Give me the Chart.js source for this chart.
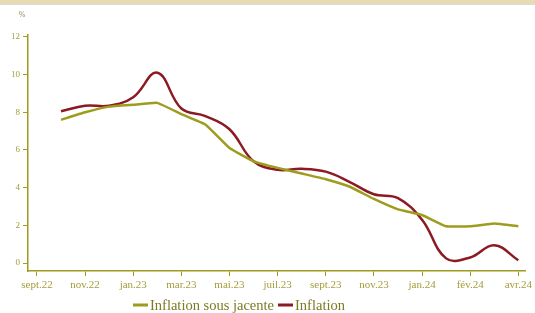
<!DOCTYPE html>
<html lang="fr">
<head>
    <meta charset="UTF-8">
    <title>Inflation</title>
    <script src="https://cdn.jsdelivr.net/npm/chart.js@4.4.1/dist/chart.umd.min.js"></script>
    <style>
        html, body { margin: 0; padding: 0; background: #fff; }
        .band { position: absolute; left: 0; top: 0; width: 535px; height: 4px; background: #e6dbb1; border-bottom: 1px solid #dcdcdc; }
        .wrap { position: relative; width: 535px; height: 313px; }
    </style>
</head>
<body>
    <div class="band"></div>
    <div class="wrap">
        <canvas id="chart"></canvas>
    </div>

    <script>
        // tick labels on the x axis (one per position 0..10)
        const monthLabels = ['sept.22', 'nov.22', 'jan.23', 'mar.23', 'mai.23', 'juil.23',
                             'sept.23', 'nov.23', 'jan.24', 'fév.24', 'avr.24'];
        // positions of the monthly points on the x axis
        const pointPos = [0.5, 1, 1.5, 2, 2.5, 3, 3.5, 4, 4.5, 5,
                          5.5, 6, 6.5, 7, 7.5, 8, 8.5, 9, 9.5, 10];
        // values (%)
        const coreInflation = [7.6, 8.0, 8.3, 8.4, 8.5, 7.9, 7.35, 6.1, 5.4, 5.05,
                               4.75, 4.45, 4.05, 3.4, 2.85, 2.55, 1.95, 1.95, 2.1, 1.95];
        const inflation = [8.05, 8.35, 8.35, 8.8, 10.1, 8.2, 7.8, 7.1, 5.4, 4.95,
                           5.0, 4.85, 4.3, 3.65, 3.45, 2.3, 0.25, 0.3, 0.95, 0.15];
        const yTicks = [0, 2, 4, 6, 8, 10, 12];

        const olive = '#9e9c1e';
        const red = '#8c1a22';
        const tickColor = '#a39d3a';
        const serif = '"Liberation Serif", "DejaVu Serif", serif';

        const toXY = vals => vals.map((v, i) => ({ x: pointPos[i], y: v }));

        // legend and unit label drawn by hand so it can sit where the original has it
        const extras = {
            id: 'extras',
            afterDraw(chart) {
                const ctx = chart.ctx;
                ctx.save();
                ctx.fillStyle = '#8a8a60';
                ctx.font = '8px ' + serif;
                ctx.textAlign = 'center';
                ctx.fillText('%', 22, 17);

                ctx.font = '14.5px ' + serif;
                ctx.textAlign = 'left';
                ctx.textBaseline = 'middle';
                let x = 133;
                const y = 305;
                chart.data.datasets.forEach(ds => {
                    ctx.strokeStyle = ds.borderColor;
                    ctx.lineWidth = 3;
                    ctx.beginPath();
                    ctx.moveTo(x, y);
                    ctx.lineTo(x + 15, y);
                    ctx.stroke();
                    ctx.fillStyle = '#7c7a22';
                    ctx.fillText(ds.label, x + 17, y + 1);
                    x += 17 + ctx.measureText(ds.label).width + 4;
                });
                ctx.restore();
            }
        };

        new Chart(document.getElementById('chart'), {
            type: 'line',
            data: {
                datasets: [{
                    label: 'Inflation sous jacente',
                    data: toXY(coreInflation),
                    borderColor: olive,
                    borderWidth: 2.5,
                    tension: 0.1,
                    pointRadius: 0
                }, {
                    label: 'Inflation',
                    data: toXY(inflation),
                    borderColor: red,
                    borderWidth: 2.5,
                    tension: 0.4,
                    pointRadius: 0
                }]
            },
            options: {
                responsive: true,
                maintainAspectRatio: false,
                animation: false,
                layout: { autoPadding: false, padding: { top: 35, right: 7, left: 0, bottom: 0 } },
                plugins: { legend: { display: false }, tooltip: { enabled: false } },
                scales: {
                    x: {
                        type: 'linear',
                        min: -0.186,
                        max: 10.145,
                        afterFit: s => { s.height = 42; },
                        afterBuildTicks: s => { s.ticks = monthLabels.map((_, i) => ({ value: i })); },
                        grid: { drawOnChartArea: false, drawTicks: true, tickLength: 5, color: olive },
                        border: { color: olive, width: 1.5 },
                        ticks: {
                            color: tickColor,
                            font: { family: serif, size: 11 },
                            padding: 3,
                            maxRotation: 0,
                            autoSkip: false,
                            callback: v => monthLabels[v]
                        }
                    },
                    y: {
                        min: -0.42,
                        max: 12.1,
                        afterFit: s => { s.width = 28; },
                        afterBuildTicks: s => { s.ticks = yTicks.map(v => ({ value: v })); },
                        grid: { drawOnChartArea: false, drawTicks: true, tickLength: 5, color: olive },
                        border: { color: olive, width: 1.5 },
                        ticks: {
                            color: tickColor,
                            font: { family: serif, size: 9 },
                            padding: 3
                        }
                    }
                }
            },
            plugins: [extras]
        });
    </script>
</body>
</html>
